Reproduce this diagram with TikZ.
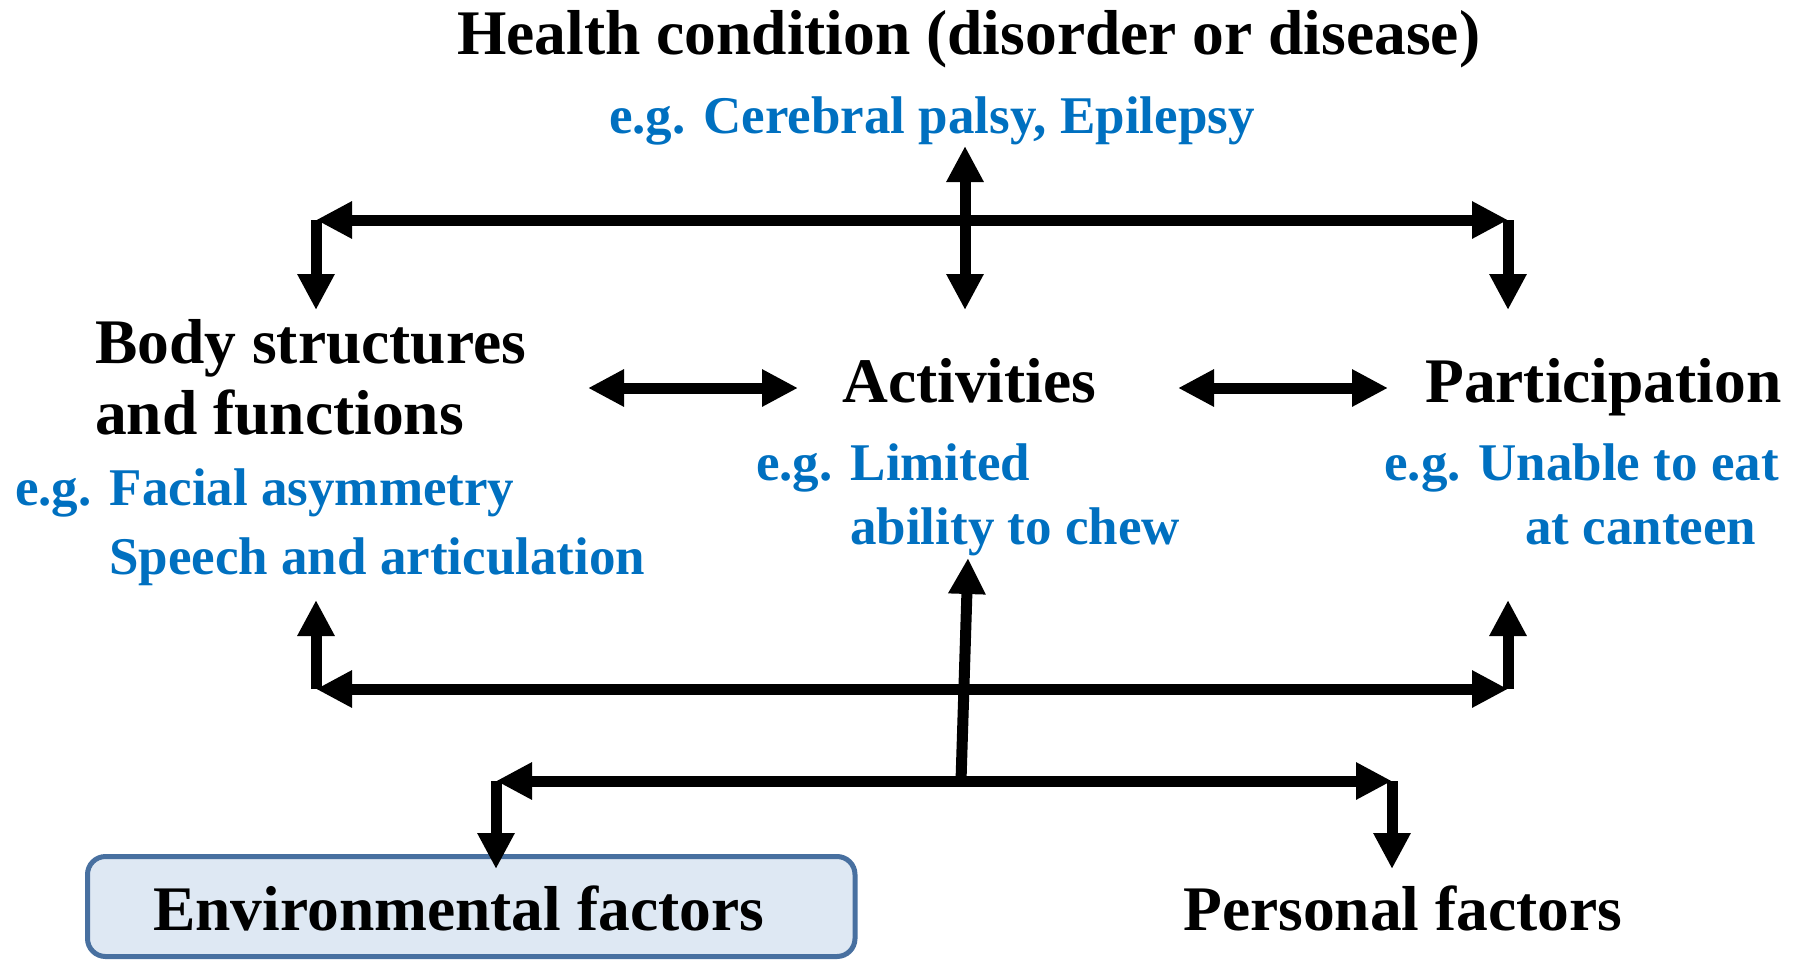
\documentclass[tikz,border=0pt]{standalone}
\usepackage{fontspec}
\setmainfont{Liberation Serif}[BoldFont={Liberation Serif Bold}]
\usetikzlibrary{arrows.meta}
\definecolor{egblue}{RGB}{0,112,192}
\definecolor{envfill}{RGB}{222,232,243}
\definecolor{envline}{RGB}{72,112,160}
\begin{document}
\begin{tikzpicture}[x=1pt,y=-1pt,
  big/.style={font=\bfseries\fontsize{63.5}{70}\selectfont, inner sep=0pt, anchor=base west},
  eg/.style={font=\bfseries\fontsize{53}{60}\selectfont, text=egblue, inner sep=0pt, anchor=base west},
  link/.style={line width=11pt, -{Triangle[length=36pt,width=35pt]}},
  dlink/.style={line width=11pt, {Triangle[length=36pt,width=35pt]}-{Triangle[length=36pt,width=35pt]}},
  envbox/.style={draw=envline, fill=envfill, line width=5pt, rounded corners=18pt},
]
\useasboundingbox (0,0) rectangle (1801,961);

% environmental factors box
\draw[envbox] (87.5,856.5) rectangle (855,956.5);

% texts
\node[big] (hc) at (457,54) {Health condition (disorder or disease)};
\node[eg] (hceg) at (609,133) {e.g. Cerebral palsy, Epilepsy};

\node[big] (body1) at (95,363) {Body structures};
\node[big] (body2) at (95,434) {and functions};
\node[eg] (bodyeg1) at (15,505) {e.g.\hspace{18pt}Facial asymmetry};
\node[eg] (bodyeg2) at (109,574) {Speech and articulation};

\node[big] (act) at (842,402) {Activities};
\node[eg] (acteg1) at (756,480) {e.g.\hspace{18pt}Limited};
\node[eg] (acteg2) at (850,544) {ability to chew};

\node[big] (part) at (1425,402) {Participation};
\node[eg] (parteg1) at (1384,480) {e.g. Unable to eat};
\node[eg] (parteg2) at (1525,544) {at canteen};

\node[big] (env) at (153,930) {Environmental factors};
\node[big] (pers) at (1183,930) {Personal factors};

% junction points
\coordinate (hcdown) at (965,146);
\coordinate (actup) at (965,310);
\coordinate (tl) at (316,220);
\coordinate (tr) at (1508,220);
\coordinate (bodytop) at (316,310);
\coordinate (parttop) at (1508,310);
\coordinate (ba1) at (588,388);
\coordinate (ba2) at (798,388);
\coordinate (ap1) at (1178,388);
\coordinate (ap2) at (1388,388);
\coordinate (bl) at (316,689);
\coordinate (br) at (1508,689);
\coordinate (bodybot) at (316,600);
\coordinate (partbot) at (1508,600);
\coordinate (cfoot) at (961,781);
\coordinate (actbot) at (968,558);
\coordinate (fl) at (496,781);
\coordinate (fr) at (1392,781);
\coordinate (envtop) at (496,869);
\coordinate (perstop) at (1392,869);

% upper connectors
\draw[dlink] (tl) -- (tr);
\draw[link] (tl) -- (bodytop);
\draw[link] (tr) -- (parttop);
\draw[dlink] (hcdown) -- (actup);
\draw[dlink] (ba1) -- (ba2);
\draw[dlink] (ap1) -- (ap2);

% lower connectors
\draw[dlink] (bl) -- (br);
\draw[link] (bl) -- (bodybot);
\draw[link] (br) -- (partbot);
\draw[link] (cfoot) -- (actbot);
\draw[dlink] (fl) -- (fr);
\draw[link] (fl) -- (envtop);
\draw[link] (fr) -- (perstop);
\end{tikzpicture}
\end{document}
